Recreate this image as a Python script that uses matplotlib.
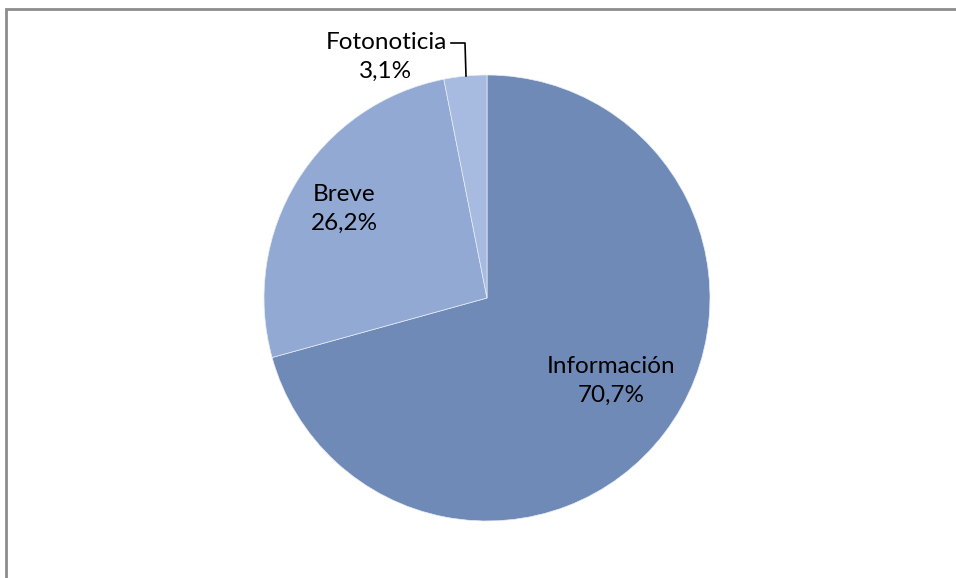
import matplotlib
matplotlib.use("Agg")
import matplotlib.pyplot as plt
from matplotlib.patches import Rectangle

categories = ["Información", "Breve", "Fotonoticia"]
values = [70.7, 26.2, 3.1]
labels_pct = ["70,7%", "26,2%", "3,1%"]
colors = ["#6F8AB6", "#92AAD3", "#A7BADF"]

plt.rcParams['font.family'] = ['Lato', 'DejaVu Sans']

fig = plt.figure(figsize=(9.56, 5.78), dpi=100)
ax = fig.add_axes([0, 0, 1, 1])

H = 578
ax.pie(values, colors=colors, startangle=90, counterclock=False,
       center=(487, H - 298), radius=223, frame=True,
       wedgeprops=dict(edgecolor="#E8EDF6", linewidth=0.5))
ax.set_xlim(0, 956)
ax.set_ylim(0, 578)
ax.set_aspect('equal')
ax.axis('off')

fs = 17.5
ax.text(611, H - 381, f"{categories[0]}\n{labels_pct[0]}", ha='center', va='center',
        fontsize=fs, linespacing=1.45, color="#000000")
ax.text(344, H - 209, f"{categories[1]}\n{labels_pct[1]}", ha='center', va='center',
        fontsize=fs, linespacing=1.45, color="#000000")
ax.text(386, H - 57, f"{categories[2]}\n{labels_pct[2]}", ha='center', va='center',
        fontsize=fs, linespacing=1.45, color="#000000")

# leader line for Fotonoticia
ax.plot([451, 465, 466], [H - 43, H - 43, H - 76], color="#000000", linewidth=1.2)

# chart border
fig.patches.append(Rectangle((6 / 956, -0.05), 1.1, (H - 9) / H + 0.05,
                             transform=fig.transFigure, fill=False,
                             edgecolor="#8C8C8C", linewidth=2))

fig.savefig("out.png", dpi=100, facecolor="white")
